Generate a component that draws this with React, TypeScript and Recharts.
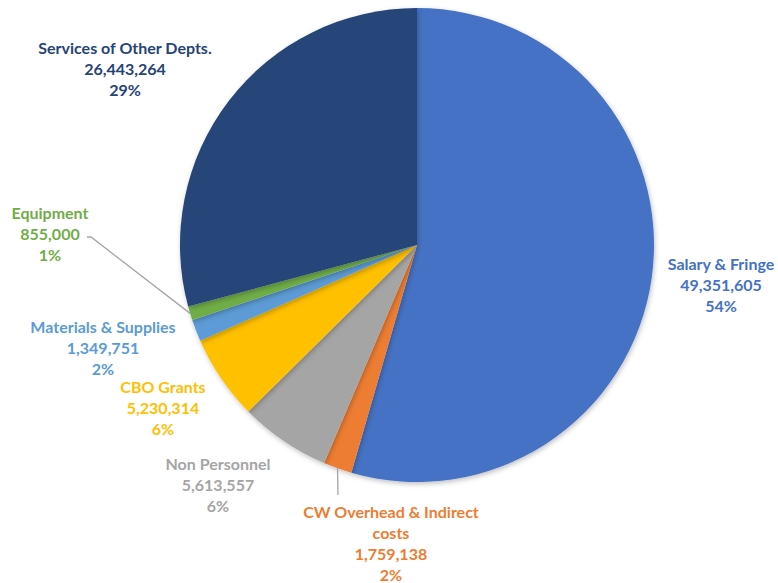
import { PieChart, Pie, Cell } from "recharts";

const categories = [
  "Salary & Fringe",
  "CW Overhead & Indirect costs",
  "Non Personnel",
  "CBO Grants",
  "Materials & Supplies",
  "Equipment",
  "Services of Other Depts.",
];
const amounts = [49351605, 1759138, 5613557, 5230314, 1349751, 855000, 26443264];
const percentLabels = ["54%", "2%", "6%", "6%", "2%", "1%", "29%"];
const colors = ["#4472C4", "#ED7D31", "#A5A5A5", "#FFC000", "#5B9BD5", "#70AD47", "#264478"];

// label blocks: name lines, centre x, first line y, optional leader line start
const labelLayout = [
  { lines: ["Salary & Fringe"], x: 721, y: 263 },
  { lines: ["CW Overhead & Indirect", "costs"], x: 391, y: 511, lead: [338, 495] },
  { lines: ["Non Personnel"], x: 218, y: 463 },
  { lines: ["CBO Grants"], x: 163, y: 386 },
  { lines: ["Materials & Supplies"], x: 103, y: 326 },
  { lines: ["Equipment"], x: 50, y: 212, lead: [87, 237] },
  { lines: ["Services of Other Depts."], x: 125, y: 47 },
];

const data = categories.map((name, i) => ({ name, value: amounts[i] }));

const RADIAN = Math.PI / 180;
const LINE_H = 21;

function renderLabel(props: any) {
  const { cx, cy, midAngle, outerRadius, index } = props;
  const lay = labelLayout[index];
  const rows = [...lay.lines, amounts[index].toLocaleString("en-US"), percentLabels[index]];
  let leader = null;
  if (lay.lead) {
    const ex = cx + outerRadius * Math.cos(-midAngle * RADIAN);
    const ey = cy + outerRadius * Math.sin(-midAngle * RADIAN);
    leader = (
      <polyline
        points={`${lay.lead[0]},${lay.lead[1]} ${index === 5 ? lay.lead[0] + 4 + "," + lay.lead[1] : ""} ${ex},${ey}`}
        fill="none"
        stroke="#A6A6A6"
        strokeWidth={1.3}
      />
    );
  }
  return (
    <g key={`lbl-${index}`}>
      {leader}
      {rows.map((t, k) => (
        <text
          key={k}
          x={lay.x}
          y={lay.y + k * LINE_H}
          textAnchor="middle"
          dominantBaseline="central"
          fill={colors[index]}
          fontFamily="Lato, 'Open Sans', sans-serif"
          fontWeight={700}
          fontSize={16}
        >
          {t}
        </text>
      ))}
    </g>
  );
}

export default function App() {
  return (
    <div style={{ position: "absolute", left: 0, top: 0, width: 778, height: 583, background: "#fff" }}>
      <PieChart width={778} height={583} margin={{ top: 0, right: 0, bottom: 0, left: 0 }}>
        <defs>
          <filter id="pieShadow" x="-10%" y="-10%" width="120%" height="120%">
            <feDropShadow dx="1" dy="2" stdDeviation="2.5" floodColor="#000" floodOpacity="0.25" />
          </filter>
        </defs>
        <Pie
          data={data}
          dataKey="value"
          nameKey="name"
          cx={417}
          cy={245}
          outerRadius={237}
          startAngle={90}
          endAngle={-270}
          stroke="none"
          label={renderLabel}
          labelLine={false}
          isAnimationActive={false}
          style={{ filter: "url(#pieShadow)" }}
        >
          {data.map((d, i) => (
            <Cell key={d.name} fill={colors[i]} />
          ))}
        </Pie>
      </PieChart>
    </div>
  );
}
